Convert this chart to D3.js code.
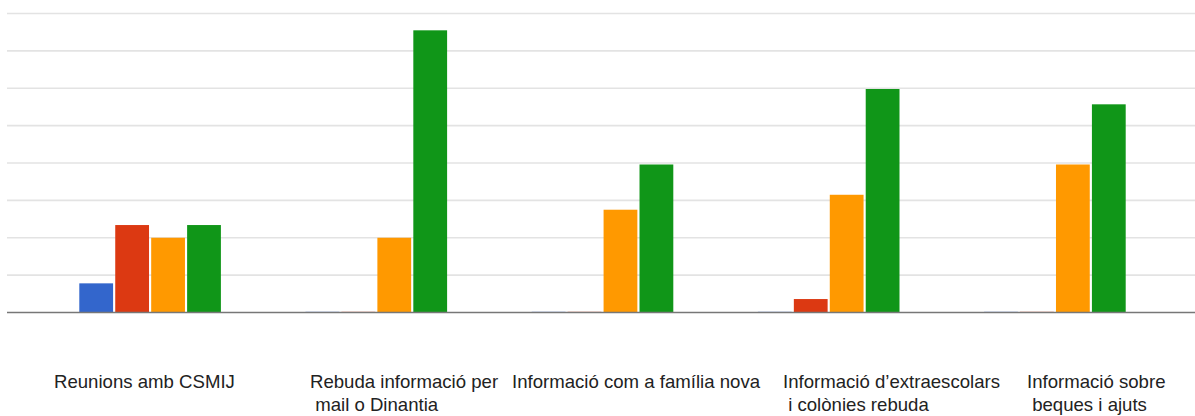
<!DOCTYPE html>
<html>
<head>
<meta charset="utf-8">
<script src="https://cdn.jsdelivr.net/npm/d3@7"></script>
<style>
  html, body { margin: 0; padding: 0; background: #fff; }
  svg { display: block; }
  text { font-family: "Liberation Sans", Arial, sans-serif; }
</style>
</head>
<body>
<svg id="chart" width="1195" height="416"></svg>
<script>
// ---- data ----
const categories = [
  "Reunions amb CSMIJ",
  "Rebuda informació per mail o Dinantia",
  "Informació com a família nova",
  "Informació d’extraescolars i colònies rebuda",
  "Informació sobre beques i ajuts"
];
const labelLines = [
  ["Reunions amb CSMIJ"],
  ["Rebuda informació per", " mail o Dinantia"],
  ["Informació com a família nova"],
  ["Informació d’extraescolars", " i colònies rebuda"],
  ["Informació sobre", " beques i ajuts"]
];
const seriesNames = ["S1", "S2", "S3", "S4"];
const s1 = [0.78, 0, 0, 0, 0];
const s2 = [2.34, 0, 0, 0.36, 0];
const s3 = [2.0, 2.0, 2.75, 3.15, 3.96];
const s4 = [2.34, 7.55, 3.96, 5.98, 5.57];
const yTicks = [0, 1, 2, 3, 4, 5, 6, 7, 8];

// ---- layout / style ----
const colors = ["#3366cc", "#dc3912", "#ff9900", "#109618"];
const labelLeft = [54, 310, 512, 783, 1027];
const series = [s1, s2, s3, s4];

const svg = d3.select("#chart");
const y = d3.scaleLinear().domain([0, 8]).range([312.5, 13.5]);
const x0 = d3.scaleBand().domain(categories).range([37, 1168]);
const groupW = 141.6;
const x1 = d3.scaleBand().domain(seriesNames).range([0, groupW]).paddingInner(0.06);
const gOff = (x0.bandwidth() - groupW) / 2;

// gridlines
svg.append("g").selectAll("line")
  .data(yTicks.filter(d => d > 0))
  .join("line")
  .attr("x1", 7).attr("x2", 1195)
  .attr("y1", d => y(d)).attr("y2", d => y(d))
  .attr("stroke", "#e3e3e3").attr("stroke-width", 1.6);

// bars
const groups = svg.append("g").selectAll("g")
  .data(categories)
  .join("g")
  .attr("transform", d => `translate(${x0(d) + gOff},0)`);

groups.selectAll("rect")
  .data((c, i) => series.map((s, k) => ({ k, v: s[i] })))
  .join("rect")
  .attr("x", d => x1(seriesNames[d.k]))
  .attr("width", x1.bandwidth())
  .attr("y", d => d.v > 0 ? y(d.v) : y(0) - 1)
  .attr("height", d => d.v > 0 ? y(0) - y(d.v) : 1)
  .attr("fill", d => colors[d.k])
  .attr("opacity", d => d.v > 0 ? 1 : 0.35);

// baseline
svg.append("line")
  .attr("x1", 7).attr("x2", 1195)
  .attr("y1", y(0)).attr("y2", y(0))
  .attr("stroke", "#777").attr("stroke-width", 1.6);

// labels
const lab = svg.append("g").selectAll("text")
  .data(labelLines)
  .join("text")
  .attr("x", (d, i) => labelLeft[i])
  .attr("y", 388)
  .attr("font-size", 18.6)
  .attr("fill", "#222")
  .attr("xml:space", "preserve")
  .style("white-space", "pre");
lab.each(function(lines, i) {
  d3.select(this).selectAll("tspan")
    .data(lines)
    .join("tspan")
    .attr("x", labelLeft[i])
    .attr("dy", (d, j) => j === 0 ? 0 : 23)
    .text(d => d);
});
</script>
</body>
</html>
